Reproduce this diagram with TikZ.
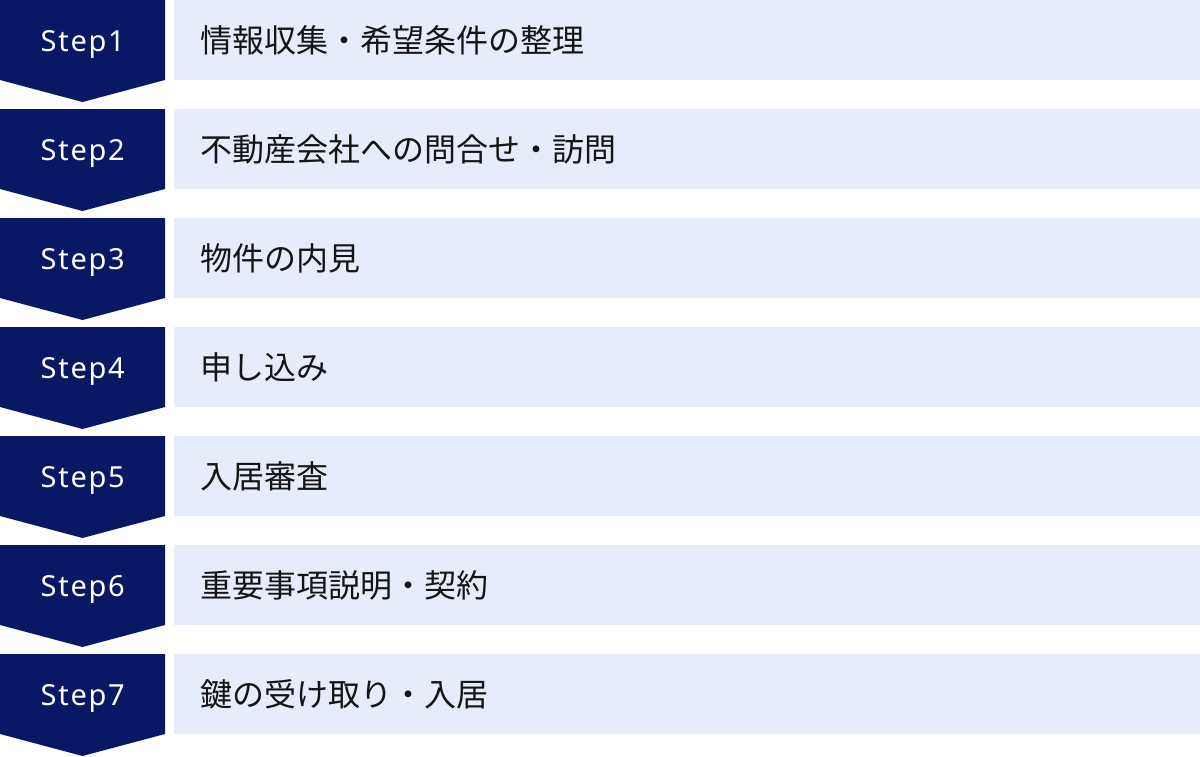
\documentclass[tikz,border=0pt]{standalone}
\usepackage{fontspec}
\newfontfamily\jp{Noto Sans CJK JP}
\newfontfamily\stepfont[LetterSpace=6]{Noto Sans}
\definecolor{navy}{HTML}{081864}
\definecolor{pale}{HTML}{E6ECF9}
\definecolor{ink}{HTML}{151515}
\begin{document}
\begin{tikzpicture}[x=1pt,y=-1pt,
  chev/.style={fill=navy},
  band/.style={fill=pale},
  steplabel/.style={text=white,font=\stepfont\fontsize{29}{34}\selectfont,inner sep=0pt,anchor=base west},
  tasklabel/.style={text=ink,font=\jp\fontsize{32}{36}\selectfont,inner sep=0pt,anchor=west}]
\useasboundingbox (0,0) rectangle (1200,756);
\fill[white] (0,0) rectangle (1200,756);
\foreach \i/\t in {1/情報収集・希望条件の整理,2/不動産会社への問合せ・訪問,3/物件の内見,4/申し込み,5/入居審査,6/重要事項説明・契約,7/鍵の受け取り・入居}{
  \pgfmathsetmacro{\y}{(\i-1)*109}
  \fill[chev] (0,\y) -- (165,\y) -- (165,\y+80) -- (82.5,\y+102) -- (0,\y+80) -- cycle;
  \fill[band] (174,\y) rectangle (1200,\y+80);
  \node[steplabel] (s\i) at (40.5,\y+51.5) {Step\i};
  \node[tasklabel] (t\i) at (200,\y+40) {\t};
}
\end{tikzpicture}
\end{document}
